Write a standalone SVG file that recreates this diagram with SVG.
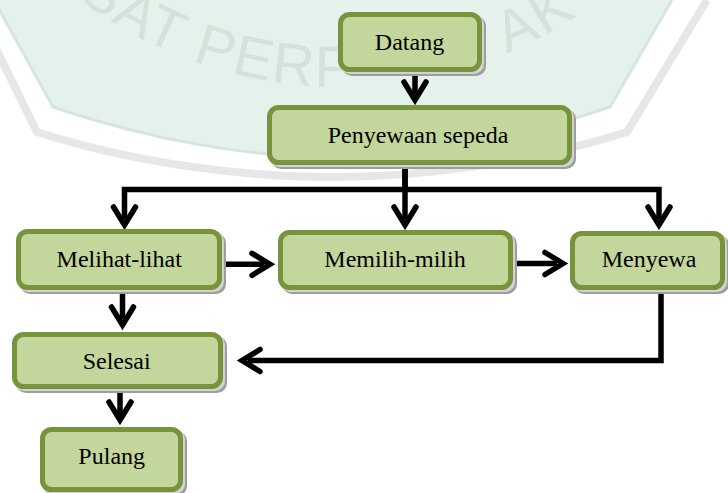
<svg xmlns="http://www.w3.org/2000/svg" width="728" height="493" viewBox="0 0 728 493">
  <defs>
    <style>
      .box { fill: #c3d69b; stroke: #77933c; stroke-width: 5; }
      .sh-dark { fill: #9d9d9d; }
      .sh-light { fill: #d2d2d2; }
      .lbl { font-family: "Liberation Serif", "Times New Roman", serif; font-size: 24px; fill: #000; text-anchor: middle; }
      .wire { fill: none; stroke: #000; stroke-width: 5.5; stroke-linejoin: miter; stroke-linecap: butt; marker-end: url(#chev); }
      .wm-text { font-family: "Liberation Sans", Arial, sans-serif; font-size: 58px; fill: #d3e3da; letter-spacing: 2px; }
    </style>
    <!-- open chevron arrowhead, fixed size in user units -->
    <marker id="chev" markerUnits="userSpaceOnUse" orient="auto" overflow="visible" refX="-6" refY="0" markerWidth="1" markerHeight="1">
      <path d="M-18,-11 L0,0 L-18,11" fill="none" stroke="#000" stroke-width="5.5" stroke-linecap="round" stroke-linejoin="miter"/>
    </marker>
    <!-- baseline arc for the emblem lettering -->
    <path id="wm-arc" d="M-12.2,-96.4 A430,430 0 0 0 692.2,-96.4"/>
  </defs>

  <rect x="0" y="0" width="728" height="493" fill="#ffffff"/>

  <!-- faint emblem in the background -->
  <g id="watermark">
    <path d="M-6,0 L53,107 C150,140 250,157 331,157 C412,157 512,140 610,107 L672,0 Z" fill="#e5f2ec"/>
    <path d="M-6,0 L53,107 C150,140 250,157 331,157 C412,157 512,140 610,107 L672,0" fill="none" stroke="#d5e6dc" stroke-width="3"/>
    <path d="M-28,0 L37,132 C140,165 250,177 332,177 C414,177 524,165 627,132 L707,0" fill="none" stroke="#e7e7e7" stroke-width="8"/>
    <text class="wm-text"><textPath href="#wm-arc" startOffset="130">SAT PERP</textPath></text>
    <text class="wm-text"><textPath href="#wm-arc" startOffset="584">AK</textPath></text>
  </g>

  <g id="connectors">
    <path class="wire" d="M415,72 V94"/>
    <path class="wire" d="M405,165 V189.5 H124.5 V219"/>
    <path class="wire" d="M405,189.5 H659 V219"/>
    <path class="wire" d="M405,165 V219"/>
    <path class="wire" d="M222,264.3 H264"/>
    <path class="wire" d="M513,263.5 H557"/>
    <path class="wire" d="M122.5,290 V319"/>
    <path class="wire" d="M661,290 V360.5 H248"/>
    <path class="wire" d="M120,389 V414"/>
  </g>

  <g id="datang">
    <rect class="sh-dark" x="342" y="16" width="144" height="60" rx="10"/>
    <rect class="sh-light" x="340" y="14" width="144" height="60" rx="10"/>
    <rect class="box" x="340.5" y="14.5" width="139" height="55" rx="9"/>
    <text class="lbl" x="409.5" y="50">Datang</text>
  </g>

  <g id="penyewaan">
    <rect class="sh-dark" x="271" y="109" width="305" height="60" rx="10"/>
    <rect class="sh-light" x="269" y="107" width="305" height="60" rx="10"/>
    <rect class="box" x="269.5" y="107.5" width="300" height="55" rx="9"/>
    <text class="lbl" x="418" y="143.3">Penyewaan sepeda</text>
  </g>

  <g id="melihat">
    <rect class="sh-dark" x="20" y="233" width="206" height="61" rx="10"/>
    <rect class="sh-light" x="18" y="231" width="206" height="61" rx="10"/>
    <rect class="box" x="18.5" y="231.5" width="201" height="56" rx="9"/>
    <text class="lbl" x="119.2" y="266.7">Melihat-lihat</text>
  </g>

  <g id="memilih">
    <rect class="sh-dark" x="282" y="234" width="235" height="60" rx="10"/>
    <rect class="sh-light" x="280" y="232" width="235" height="60" rx="10"/>
    <rect class="box" x="280.5" y="232.5" width="230" height="55" rx="9"/>
    <text class="lbl" x="395" y="266.7">Memilih-milih</text>
  </g>

  <g id="menyewa">
    <rect class="sh-dark" x="574" y="235" width="155" height="59" rx="10"/>
    <rect class="sh-light" x="572" y="233" width="155" height="59" rx="10"/>
    <rect class="box" x="572.5" y="233.5" width="150" height="54" rx="9"/>
    <text class="lbl" x="649" y="267">Menyewa</text>
  </g>

  <g id="selesai">
    <rect class="sh-dark" x="16" y="336" width="211" height="57" rx="10"/>
    <rect class="sh-light" x="14" y="334" width="211" height="57" rx="10"/>
    <rect class="box" x="14.5" y="334.5" width="206" height="52" rx="9"/>
    <text class="lbl" x="116.7" y="369.3">Selesai</text>
  </g>

  <g id="pulang">
    <rect class="sh-dark" x="44" y="431" width="143" height="65" rx="10"/>
    <rect class="sh-light" x="42" y="429" width="143" height="65" rx="10"/>
    <rect class="box" x="42.5" y="429.5" width="138" height="60" rx="9"/>
    <text class="lbl" x="111.7" y="464">Pulang</text>
  </g>
</svg>
